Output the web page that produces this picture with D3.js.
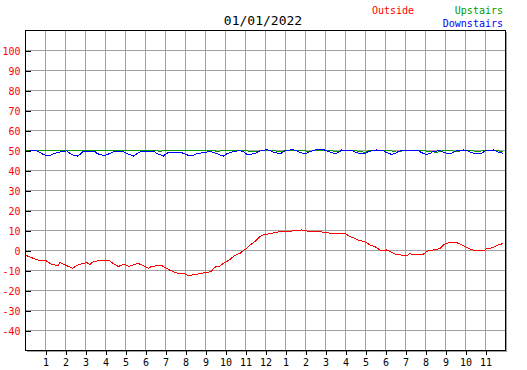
<!DOCTYPE html>
<html>
<head>
<meta charset="utf-8">
<script src="https://cdn.jsdelivr.net/npm/d3@7"></script>
<style>
  html, body { margin: 0; padding: 0; background: #fff; }
  svg { display: block; }
  text { font-family: "DejaVu Sans Mono", monospace; }
</style>
</head>
<body>
<script>
// ---- data ----
const title = "01/01/2022";
const seriesNames = ["Outside", "Upstairs", "Downstairs"];
const seriesColors = ["#ff0000", "#009a00", "#0000ff"];

const yTicks = [-40, -30, -20, -10, 0, 10, 20, 30, 40, 50, 60, 70, 80, 90, 100];
const xTickHours = [1,2,3,4,5,6,7,8,9,10,11,12,13,14,15,16,17,18,19,20,21,22,23];
const xTickLabels = ["1","2","3","4","5","6","7","8","9","10","11","12","1","2","3","4","5","6","7","8","9","10","11"];

const outsideHours = [0,0.33,0.5,0.67,0.83,1.0,1.17,1.33,1.5,1.67,1.75,1.92,2.08,2.25,2.38,2.58,2.75,2.92,3.08,3.25,3.42,3.58,3.75,3.92,4.17,4.33,4.5,4.67,4.83,5.0,5.17,5.33,5.5,5.67,5.83,6.0,6.17,6.33,6.5,6.67,6.83,7.0,7.17,7.33,7.5,7.67,7.83,8.0,8.17,8.33,8.5,8.67,8.83,9.0,9.17,9.33,9.47,9.58,9.75,9.92,10.08,10.25,10.42,10.58,10.75,10.92,11.08,11.25,11.42,11.58,11.75,11.92,12.17,12.33,12.5,12.67,12.83,13.33,13.83,14.08,14.75,14.83,15.33,16.0,16.08,16.25,16.42,16.58,16.75,16.92,17.08,17.25,17.42,17.58,17.75,17.92,18.08,18.25,18.42,18.58,18.92,19.08,19.25,19.42,19.58,19.75,19.92,20.08,20.25,20.42,20.58,20.75,20.92,21.08,21.25,21.42,21.58,21.75,21.92,22.08,22.25,22.42,22.58,22.83,23.0,23.08,23.25,23.42,23.58,23.75,23.83,23.92];
const outsideTemps = [-2.5,-3.8,-4.5,-5,-5.3,-5,-6.2,-7.2,-7.5,-7.8,-6.2,-7,-7.8,-8.5,-9.2,-7.8,-7.2,-6.7,-6.2,-7.2,-5.8,-5.5,-5.2,-5,-5,-6.2,-7.2,-8.3,-7.5,-7.2,-8.2,-7.8,-7.2,-6.7,-7.5,-8.3,-9.2,-8.2,-8,-7.5,-7.8,-8.7,-9.7,-10.5,-11.2,-11.7,-11.7,-12,-12.8,-12.5,-12.2,-12,-11.7,-11.3,-11.2,-10.5,-8.7,-8.3,-8,-6.7,-5.8,-4.7,-3.3,-2.3,-1.7,-0.3,0.8,2.5,3.7,5,6.7,7.5,8,8.3,8.7,9,9.5,9.5,10,9.5,9.5,9,8.3,8.3,7.8,6.7,6.2,5.3,4.7,4.3,3.7,2.5,2,1.2,0,-0.3,0,-0.8,-1.7,-2.2,-2.7,-3,-1.7,-2.5,-2.2,-2,-2,-0.8,0,0,0.3,0.8,2.5,3.3,3.8,3.8,3.7,3,2.2,1.3,0.5,0,0,0,0,0.7,0.8,1.3,2.2,2.8,3,3.3];

const upstairsHours = [0,0.5,0.8,0.9,1.9,2.0,2.2,2.3,3.2,3.3,3.5,3.6,4.6,4.7,4.9,5.0,6.1,6.2,6.4,6.5,6.8,6.9,7.6,7.9,8.5,9.5,9.6,9.8,10.5,11.0,11.5,11.8,12.2,12.5,12.7,13.0,13.4,14.0,14.2,14.4,15.0,15.3,15.6,15.8,16.4,16.7,17.0,17.2,17.7,18.3,18.6,18.9,19.7,20.2,20.6,20.9,21.3,21.6,22.0,22.4,22.6,22.9,23.3,23.6,23.92];
const upstairsTemps = [49.7,50,50,49.7,49.7,50,50,49.7,49.7,50,50,49.7,49.7,50,50,49.7,49.7,50,50,49.7,49.3,49.7,50,49.7,49.7,49.7,49,49.7,50,49.7,49,49.7,50,49.7,49,49.7,50,49.7,49,49.7,50,49.7,49,49.7,50,49.3,48.8,49.7,50,49.7,48.8,49.7,50,49.3,48.8,49.7,49.7,49.2,50,49.7,49,49.7,50,49.7,49];

const downstairsHours = [0.05,0.25,0.58,0.75,0.92,1.22,1.42,1.58,1.75,2.0,2.08,2.25,2.42,2.62,2.75,2.88,3.08,3.5,3.58,3.83,4.05,4.25,4.42,4.92,5.08,5.33,5.42,5.58,5.75,6.42,6.58,6.83,6.92,7.08,7.25,7.75,7.92,8.17,8.33,8.5,8.67,8.92,9.08,9.25,9.58,9.75,9.92,10.08,10.25,10.5,10.75,10.92,11.08,11.33,11.5,11.67,12.0,12.08,12.25,12.42,12.58,12.83,13.0,13.33,13.58,13.75,13.92,14.08,14.25,14.58,14.92,15.17,15.33,15.5,15.67,15.83,16.33,16.58,16.83,17.0,17.17,17.58,17.92,18.08,18.33,18.5,18.67,18.83,19.67,19.83,20.08,20.25,20.42,20.75,20.92,21.08,21.25,21.42,21.58,21.92,22.08,22.33,22.58,22.83,23.0,23.42,23.58,23.75,23.92];
const downstairsTemps = [49,49.7,49.7,48.7,47.7,47,48,48.7,49,49.3,49.7,48.3,47.3,47,47.7,49,49.3,49.5,48.3,47.5,47.5,48.3,49,49.3,48.3,47.3,47,48,49,49.5,48.3,47.3,47,48.3,49,49,48.3,47.3,47,47.8,48.3,48.7,49,49.3,48.3,47.5,47,48,48.8,49.3,49.7,49.2,48,48,48.3,49.3,50,50.3,49.7,48.8,48.5,48.5,49.5,50.2,49.7,48.8,48.3,48.3,49.2,50.2,50.2,49.2,48.7,48.3,48.7,50,49.7,48.7,48,48.3,49.3,50,49.7,48.7,47.8,48.3,49.2,49.7,49.7,48.7,47.7,48.3,49.3,49.7,49,48.3,48,48.7,49.7,50,49.7,48.7,48,48.3,49.5,50,49.3,48.7,48.3];

// ---- chart ----
const W = 527, H = 370;
const svg = d3.select("body").append("svg").attr("width", W).attr("height", H);

const x = d3.scaleLinear().domain([0, 24]).range([25, 505]);
const y = d3.scaleLinear().domain([-50, 110]).range([350, 30]);
const px = v => Math.round(v) + 0.5;

// shadow
svg.append("rect").attr("x", x(0) + 2).attr("y", y(110) + 2)
  .attr("width", x(24) - x(0)).attr("height", y(-50) - y(110))
  .attr("fill", "#a0a0a0");
svg.append("rect").attr("x", px(x(0))).attr("y", px(y(110)))
  .attr("width", x(24) - x(0)).attr("height", y(-50) - y(110))
  .attr("fill", "#fff");

// grid
const grid = svg.append("g").attr("shape-rendering", "crispEdges")
  .attr("stroke", "#a0a0a0").attr("stroke-width", 1);
grid.selectAll("line.h").data(yTicks.concat([]))
  .join("line").attr("class", "h")
  .attr("x1", x(0)).attr("x2", x(24))
  .attr("y1", d => px(y(d))).attr("y2", d => px(y(d)));
grid.selectAll("line.v").data(xTickHours)
  .join("line").attr("class", "v")
  .attr("y1", y(110)).attr("y2", y(-50))
  .attr("x1", d => px(x(d))).attr("x2", d => px(x(d)));

// lines
function drawSeries(hours, temps, color) {
  const pts = hours.map((h, i) => [h, temps[i]]);
  svg.append("path").datum(pts)
    .attr("fill", "none").attr("stroke", color).attr("stroke-width", 1)
    .attr("shape-rendering", "crispEdges")
    .attr("d", d3.line().x(d => x(d[0])).y(d => y(d[1])));
}
drawSeries(outsideHours, outsideTemps, seriesColors[0]);
drawSeries(upstairsHours, upstairsTemps, seriesColors[1]);
drawSeries(downstairsHours, downstairsTemps, seriesColors[2]);

// border
svg.append("rect").attr("x", px(x(0))).attr("y", px(y(110)))
  .attr("width", Math.round(x(24) - x(0))).attr("height", Math.round(y(-50) - y(110)))
  .attr("fill", "none").attr("stroke", "#000").attr("shape-rendering", "crispEdges");

// y axis
const yAxis = d3.axisLeft(y).tickValues(yTicks).tickSize(-5).tickPadding(5)
  .tickFormat(d => String(d));
const gy = svg.append("g").attr("transform", `translate(${px(x(0))},0.5)`).call(yAxis);
gy.select(".domain").remove();
gy.selectAll(".tick line").attr("stroke", "#000").attr("shape-rendering", "crispEdges");
gy.selectAll(".tick text").attr("fill", "#ff0000").attr("font-size", 10)
  .attr("font-family", "DejaVu Sans Mono").attr("dy", "0.4em");

// x axis
const xAxis = d3.axisBottom(x).tickValues(xTickHours).tickSize(4).tickPadding(4)
  .tickFormat((d, i) => xTickLabels[i]);
const gx = svg.append("g").attr("transform", `translate(0.5,${px(y(-50))})`).call(xAxis);
gx.select(".domain").remove();
gx.selectAll(".tick line").attr("stroke", "#000").attr("shape-rendering", "crispEdges");
gx.selectAll(".tick text").attr("fill", "#000").attr("font-size", 10)
  .attr("font-family", "DejaVu Sans Mono");

// title & legend
svg.append("text").attr("x", 263).attr("y", 25).attr("text-anchor", "middle")
  .attr("font-size", 13).attr("fill", "#000").text(title);
svg.append("text").attr("x", 372).attr("y", 14).attr("font-size", 10)
  .attr("fill", seriesColors[0]).text(seriesNames[0]);
svg.append("text").attr("x", 503).attr("y", 14).attr("text-anchor", "end").attr("font-size", 10)
  .attr("fill", seriesColors[1]).text(seriesNames[1]);
svg.append("text").attr("x", 503).attr("y", 26.5).attr("text-anchor", "end").attr("font-size", 10)
  .attr("fill", seriesColors[2]).text(seriesNames[2]);
</script>
</body>
</html>
